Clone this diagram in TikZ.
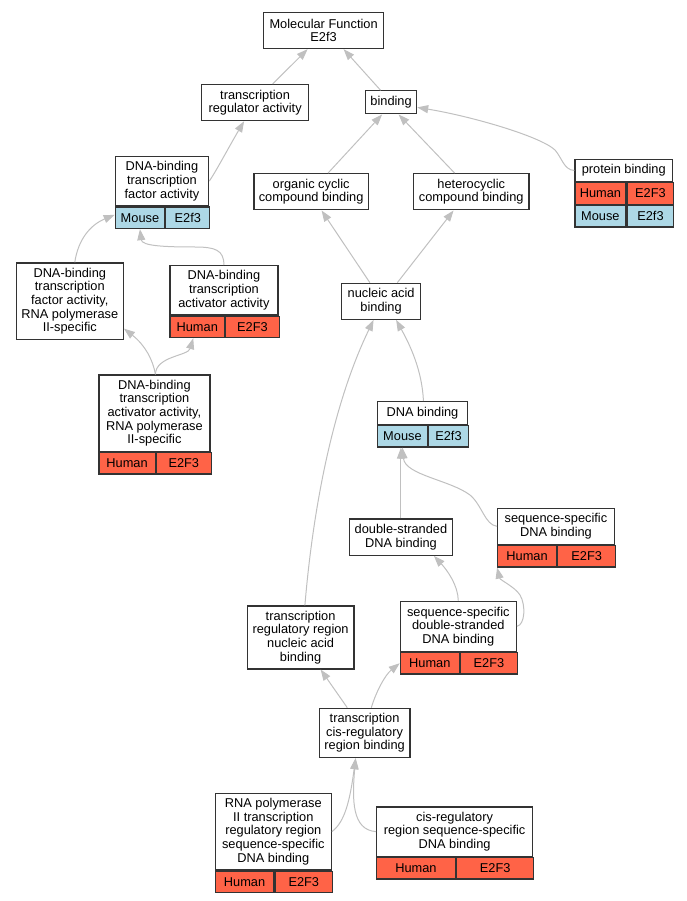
\documentclass[tikz,border=0pt]{standalone}
\usepackage{fontspec}
\setmainfont{Liberation Sans}
\usetikzlibrary{arrows.meta,positioning}
\definecolor{humanred}{RGB}{255,99,71}
\definecolor{mouseblue}{RGB}{173,216,230}
\definecolor{edgegray}{RGB}{192,192,192}
\definecolor{boxgray}{RGB}{51,51,51}

\begin{document}
\begin{tikzpicture}[
    x=1pt,y=-1pt,
    every node/.style={draw=boxgray,line width=1.2pt,inner sep=0pt,align=center,font=\fontsize{12.8pt}{13.6pt}\selectfont},
    term/.style={fill=white,anchor=north west},
    human/.style={fill=humanred,anchor=north west,minimum height=21.5pt},
    mouse/.style={fill=mouseblue,anchor=north west,minimum height=21.5pt},
    isa/.style={draw=edgegray,line width=1pt,-{Triangle[length=11pt,width=8pt]}}
]
\useasboundingbox (0,0) rectangle (687,901);

% Top levels
\node[term,minimum width=120pt,minimum height=36pt] (mf) at (263,12) {Molecular Function\\E2f3};
\node[term,minimum width=107pt,minimum height=36pt] (tra) at (201,84) {transcription\\regulator activity};
\node[term,minimum width=51pt,minimum height=23pt] (binding) at (365,90.3) {binding};

% DNA-binding transcription factor activity
\node[term,minimum width=93.3pt,minimum height=49.6pt] (dbtfa) at (114.7,155.7) {DNA-binding\\transcription\\factor activity};
\node[mouse,minimum width=49.3pt] (dbtfam) at (dbtfa.south west) {Mouse};
\node[mouse,minimum width=44pt] (dbtfag) at (dbtfam.north east) {E2f3};

% Compound binding
\node[term,minimum width=114.4pt,minimum height=36.3pt] (occb) at (253.3,173) {organic cyclic\\compound binding};
\node[term,minimum width=115.3pt,minimum height=36.3pt] (hccb) at (413,173) {heterocyclic\\compound binding};

% Protein binding
\node[term,minimum width=97.7pt,minimum height=22.3pt] (pb) at (574.3,158.7) {protein binding};
\node[human,minimum width=51pt] (pbh) at (pb.south west) {Human};
\node[human,minimum width=46.7pt] (pbhg) at (pbh.north east) {E2F3};
\node[mouse,minimum width=51pt] (pbm) at (pbh.south west) {Mouse};
\node[mouse,minimum width=46.7pt] (pbmg) at (pbm.north east) {E2f3};

% RNA polymerase II-specific factor
\node[term,minimum width=107pt,minimum height=76.4pt] (dbtfa2) at (15.7,262.3) {DNA-binding\\transcription\\factor activity,\\RNA polymerase\\II-specific};

% Activator activity
\node[term,minimum width=108pt,minimum height=49.3pt] (dbtaa) at (169.3,265) {DNA-binding\\transcription\\activator activity};
\node[human,minimum width=54.7pt] (dbtaah) at (dbtaa.south west) {Human};
\node[human,minimum width=53.3pt] (dbtaag) at (dbtaah.north east) {E2F3};

% Nucleic acid binding
\node[term,minimum width=79pt,minimum height=36pt] (nab) at (341,282.7) {nucleic acid\\binding};

% Activator activity, RNA polymerase II-specific
\node[term,minimum width=111pt,minimum height=76.4pt] (dbtaa2) at (98.3,374.3) {DNA-binding\\transcription\\activator activity,\\RNA polymerase\\II-specific};
\node[human,minimum width=56.4pt] (dbtaa2h) at (dbtaa2.south west) {Human};
\node[human,minimum width=54.6pt] (dbtaa2g) at (dbtaa2h.north east) {E2F3};

% DNA binding
\node[term,minimum width=89.7pt,minimum height=22.7pt] (db) at (377,401) {DNA binding};
\node[mouse,minimum width=49.7pt] (dbm) at (db.south west) {Mouse};
\node[mouse,minimum width=40pt] (dbg) at (dbm.north east) {E2f3};

\node[term,minimum width=103.3pt,minimum height=36.4pt] (dsdb) at (348.7,518.3) {double-stranded\\DNA binding};

\node[term,minimum width=116.7pt,minimum height=36pt] (ssdb) at (497,507.7) {sequence-specific\\DNA binding};
\node[human,minimum width=59pt] (ssdbh) at (ssdb.south west) {Human};
\node[human,minimum width=57.7pt] (ssdbg) at (ssdbh.north east) {E2F3};

\node[term,minimum width=106.6pt,minimum height=63pt] (trrnab) at (246.7,605.3) {transcription\\regulatory region\\nucleic acid\\binding};

\node[term,minimum width=116pt,minimum height=50pt] (ssdsdb) at (399.7,600.7) {sequence-specific\\double-stranded\\DNA binding};
\node[human,minimum width=59pt] (ssdsdbh) at (ssdsdb.south west) {Human};
\node[human,minimum width=57pt] (ssdsdbg) at (ssdsdbh.north east) {E2F3};

% Cis-regulatory region
\node[term,minimum width=90.6pt,minimum height=49.3pt] (tcrb) at (318.7,707.7) {transcription\\cis-regulatory\\region binding};

\node[term,minimum width=116pt,minimum height=76.6pt] (rnap) at (214.7,792.7) {RNA polymerase\\II transcription\\regulatory region\\sequence-specific\\DNA binding};
\node[human,minimum width=58.6pt] (rnaph) at (rnap.south west) {Human};
\node[human,minimum width=57.4pt] (rnapg) at (rnaph.north east) {E2F3};

\node[term,minimum width=156pt,minimum height=49.4pt] (crr) at (376,806.3) {cis-regulatory\\region sequence-specific\\DNA binding};
\node[human,minimum width=78.7pt] (crrh) at (crr.south west) {Human};
\node[human,minimum width=77.3pt] (crrg) at (crrh.north east) {E2F3};

% is-a edges
\draw[isa] ([xshift=17.5pt]tra.north) -- ([xshift=-16pt]mf.south);
\draw[isa] ([xshift=-10.5pt]binding.north) -- ([xshift=20pt]mf.south);
\draw[isa] (dbtfa.east) .. controls (214,175) and (230,145) .. ([xshift=-11pt]tra.south);
\draw[isa] ([xshift=17pt]occb.north) -- ([xshift=-9pt]binding.south);
\draw[isa] ([xshift=-16.7pt]hccb.north) -- ([xshift=7.5pt]binding.south);
\draw[isa] (pb.west) .. controls (564,170) and (562,158) .. (555,150) .. controls (540,136) and (470,116) .. ([yshift=-5pt]binding.east);
\draw[isa] ([xshift=5pt]dbtfa2.north) .. controls (78,240) and (90,225) .. ([yshift=3pt]dbtfam.west);
\draw[isa] (dbtaa.north) .. controls (224,250) and (215,247) .. (195,247) .. controls (165,247) and (142,246) .. (dbtfam.south);
\draw[isa] ([xshift=-11.2pt]nab.north) -- ([xshift=10.5pt]occb.south);
\draw[isa] ([xshift=16.2pt]nab.north) -- ([xshift=-17.7pt]hccb.south);
\draw[isa] ([xshift=1pt]dbtaa2.north) .. controls (153,360) and (145,345) .. ([yshift=-27.5pt]dbtfa2.east);
\draw[isa] ([xshift=1pt]dbtaa2.north) .. controls (156,356) and (188,356) .. ([xshift=-4pt]dbtaah.south);
\draw[isa] ([xshift=1pt]db.north) .. controls (422,370) and (410,345) .. ([xshift=15pt]nab.south);
\draw[isa] ([xshift=4.3pt]trrnab.north) .. controls (312,520) and (330,410) .. ([xshift=-7.5pt]nab.south);
\draw[isa] (dsdb.north) -- (dsdb.north |- dbm.south);
\draw[isa] (ssdb.west) .. controls (485,525) and (482,505) .. (470,495) .. controls (450,480) and (405,475) .. (dbm.south);
\draw[isa] (ssdsdb.north) .. controls (458,585) and (447,570) .. ([xshift=33pt]dsdb.south);
\draw[isa] (ssdsdb.east) .. controls (525,625) and (526,605) .. (520,595) .. controls (515,587) and (500,580) .. ([xshift=-30pt]ssdbh.south);
\draw[isa] ([xshift=-17.3pt]tcrb.north) -- ([xshift=20pt]trrnab.south);
\draw[isa] ([xshift=6.7pt]tcrb.north) .. controls (376,692) and (385,675) .. (ssdsdbh.west);
\draw[isa] (rnap.east) .. controls (345,822) and (350,800) .. ([xshift=-9pt]tcrb.south);
\draw[isa] (crr.west) .. controls (352,830) and (352,800) .. ([xshift=-9pt]tcrb.south);

\end{tikzpicture}
\end{document}
